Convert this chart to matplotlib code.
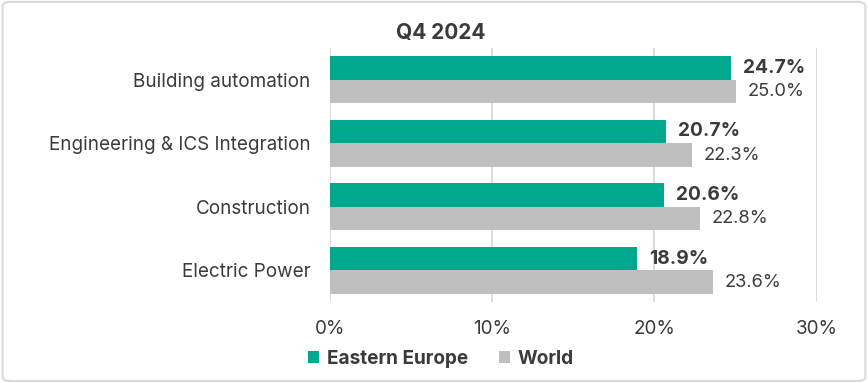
import matplotlib.pyplot as plt
import numpy as np
from matplotlib.patches import FancyBboxPatch

# data
categories = ["Building automation", "Engineering & ICS Integration", "Construction", "Electric Power"]
eastern_europe = [24.7, 20.7, 20.6, 18.9]
world = [25.0, 22.3, 22.8, 23.6]
series_names = ["Eastern Europe", "World"]
title = "Q4 2024"

green = "#00A88E"
grey = "#BFBFBF"
text_col = "#3B3B3B"

plt.rcParams['font.family'] = ['Inter', 'DejaVu Sans']

fig = plt.figure(figsize=(8.68, 3.83), dpi=100)
ax = fig.add_axes([0.380, 0.211, 0.561, 0.664])

y = np.arange(len(categories))
h = 0.37
ax.barh(y - h / 2, eastern_europe, height=h, color=green, label=series_names[0], zorder=2)
ax.barh(y + h / 2, world, height=h, color=grey, label=series_names[1], zorder=2)

for yi, v in zip(y, eastern_europe):
    ax.text(v + 0.75, yi - h / 2, f"{v:.1f}%", va='center', ha='left',
            fontsize=13.8, fontweight='bold', color=text_col)
for yi, v in zip(y, world):
    ax.text(v + 0.75, yi + h / 2, f"{v:.1f}%", va='center', ha='left',
            fontsize=13.2, color=text_col)

ax.set_xlim(0, 30)
ax.set_ylim(3.5, -0.5)
ax.set_xticks([0, 10, 20, 30])
ax.set_xticklabels(["0%", "10%", "20%", "30%"])
ax.set_yticks(y)
ax.set_yticklabels(categories)
ax.tick_params(axis='both', length=0, labelsize=13.6, colors=text_col)
ax.tick_params(axis='x', pad=13)
ax.tick_params(axis='y', pad=14)
ax.grid(axis='x', color='#D9D9D9', linewidth=1.3, zorder=0)
for s in ax.spines.values():
    s.set_visible(False)

fig.text(0.508, 0.913, title, ha='center', va='center', fontsize=15,
         fontweight='bold', color=text_col)

leg = fig.legend(loc='center', bbox_to_anchor=(0.508, 0.063), ncol=2, frameon=False,
                 handlelength=0.6, handleheight=0.6, handletextpad=0.4, columnspacing=1.6,
                 prop={'size': 13.7, 'weight': 'bold'})
for t in leg.get_texts():
    t.set_color(text_col)

border = FancyBboxPatch((0.003, 0.005), 0.994, 0.99, boxstyle="round,pad=0,rounding_size=0.01",
                        transform=fig.transFigure, fill=False, edgecolor='#D9D9D9', linewidth=1.5)
fig.patches.append(border)

fig.savefig("out.png", dpi=100)
